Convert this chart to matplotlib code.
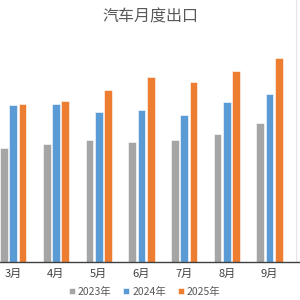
import numpy as np
import matplotlib
matplotlib.use("Agg")
import matplotlib.pyplot as plt

plt.rcParams['font.family'] = ['Noto Sans CJK SC', 'DejaVu Sans']

# 汽车月度出口 (万辆)
months = ['3月', '4月', '5月', '6月', '7月', '8月', '9月']
exp_2023 = [36.4, 37.8, 39.1, 38.3, 39.2, 40.9, 44.4]
exp_2024 = [50.3, 50.5, 48.1, 48.7, 47.0, 51.2, 53.8]
exp_2025 = [50.6, 51.7, 55.1, 59.1, 57.5, 61.1, 65.2]
series = ['2023年', '2024年', '2025年']
colors = ['#A5A5A5', '#5B9BD5', '#ED7D31']

fig = plt.figure(figsize=(3, 3), dpi=100)
# 图是从更大的图表里截出来的，所以坐标轴占满整个宽度
ax = fig.add_axes([0.0, 38 / 300, 1.0, 262 / 300])

x = np.arange(len(months))
w = 0.18
off = 0.218
for k, vals in enumerate([exp_2023, exp_2024, exp_2025]):
    ax.bar(x + (k - 1) * off, vals, width=w, color=colors[k],
           edgecolor='white', linewidth=0.4, label=series[k], zorder=2)

ax.set_xlim(-0.311, 6.714)
ax.set_ylim(0, 262 / 3.123)

for s in ['top', 'right', 'left']:
    ax.spines[s].set_visible(False)
ax.spines['bottom'].set_color('#404040')
ax.spines['bottom'].set_linewidth(1.0)
ax.set_yticks([])
ax.set_xticks(x)
ax.set_xticklabels(months, fontsize=8, color='#404040')
ax.tick_params(axis='x', length=0, pad=5)

# 右侧的浅色竖线
ax.axvline(6.62, ymin=0, ymax=1, color='#E6E6E6', lw=0.8, zorder=1)

fig.text(0.5, 1 - 16.5 / 300, '汽车月度出口', ha='center', va='center',
         fontsize=11.5, color='#595959')

ax.legend(loc='center', bbox_to_anchor=(0.482, 8.3 / 300),
          bbox_transform=fig.transFigure, ncol=3, frameon=False,
          fontsize=7.5, handlelength=0.6, handleheight=0.6,
          handletextpad=0.3, columnspacing=1.1, labelcolor='#595959')

fig.savefig('out.png', dpi=100)
